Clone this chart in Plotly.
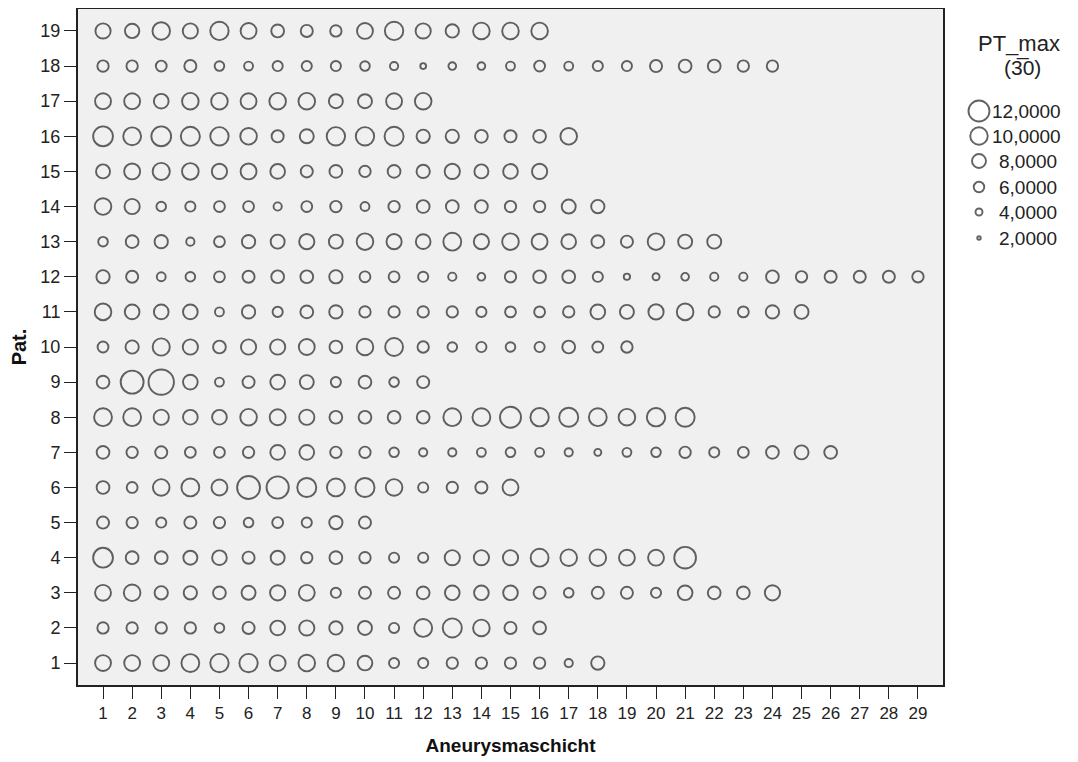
import plotly.graph_objects as go

# ---------------- data ----------------
patients = list(range(1, 20))           # Pat. 1..19
layers = list(range(1, 30))             # Aneurysmaschicht 1..29

# PT_max per patient, one value per layer (layer 1, 2, ...)
pt_max_p01 = [9.1, 9.1, 9.1, 10.2, 10.5, 10.5, 9.1, 9.5, 9.5, 8.4, 5.8, 5.8, 6.5, 6.5, 6.5, 6.5, 4.7, 7.6]
pt_max_p02 = [6.5, 6.5, 6.5, 6.5, 5.5, 6.9, 8.4, 8.7, 7.6, 8.0, 5.8, 10.2, 10.9, 9.5, 6.9, 7.3]
pt_max_p03 = [9.1, 9.5, 7.6, 7.6, 7.3, 8.0, 8.7, 9.1, 5.8, 6.9, 6.9, 7.3, 8.4, 8.4, 8.4, 6.9, 5.5, 6.9, 6.9, 5.8, 8.4, 7.3, 7.3, 8.7]
pt_max_p04 = [11.3, 7.3, 7.3, 8.0, 8.4, 6.9, 8.0, 6.5, 7.3, 6.5, 5.8, 5.8, 8.7, 8.7, 8.7, 10.2, 9.5, 9.5, 9.1, 9.1, 12.4]
pt_max_p05 = [6.9, 6.5, 5.8, 6.9, 6.5, 5.5, 6.2, 5.8, 7.6, 6.9]
pt_max_p06 = [7.3, 6.2, 9.5, 10.2, 9.1, 13.1, 12.7, 10.9, 10.2, 10.9, 9.5, 5.8, 6.5, 6.9, 9.1]
pt_max_p07 = [7.3, 6.5, 6.9, 6.2, 6.2, 6.5, 8.4, 8.4, 6.5, 6.5, 5.5, 4.7, 4.7, 5.1, 5.5, 5.1, 4.7, 4.0, 5.1, 5.5, 6.5, 5.8, 6.2, 7.3, 8.0, 7.3]
pt_max_p08 = [10.2, 10.2, 8.7, 8.4, 8.4, 9.5, 9.1, 8.7, 7.3, 7.3, 7.3, 7.3, 10.2, 10.2, 12.0, 10.5, 10.9, 10.2, 9.5, 10.5, 10.9]
pt_max_p09 = [7.3, 13.1, 14.5, 8.4, 5.1, 6.9, 8.4, 8.0, 5.8, 7.3, 5.5, 6.9]
pt_max_p10 = [6.2, 7.6, 9.8, 8.7, 7.3, 8.7, 8.7, 9.1, 7.3, 9.5, 10.2, 6.5, 5.5, 5.8, 5.5, 5.8, 7.3, 6.2, 6.5]
pt_max_p11 = [9.5, 8.4, 8.4, 8.4, 5.1, 7.6, 5.8, 7.3, 7.6, 6.5, 6.5, 6.5, 6.5, 5.8, 6.2, 6.2, 6.5, 8.4, 8.0, 8.7, 9.5, 6.5, 6.2, 7.6, 8.0]
pt_max_p12 = [7.6, 6.9, 5.1, 5.5, 6.2, 6.9, 7.3, 7.3, 7.6, 6.2, 6.2, 5.8, 4.7, 4.4, 6.5, 7.3, 7.3, 5.8, 3.6, 4.0, 4.4, 4.7, 4.7, 7.3, 6.5, 6.9, 6.9, 6.9, 6.5]
pt_max_p13 = [5.5, 7.3, 7.6, 4.7, 6.2, 7.6, 8.0, 8.7, 8.0, 9.5, 8.7, 8.4, 10.2, 8.7, 9.5, 9.1, 8.4, 7.3, 6.9, 9.5, 8.0, 8.0]
pt_max_p14 = [9.5, 8.7, 5.5, 5.8, 6.2, 6.2, 4.7, 6.2, 6.5, 5.1, 6.5, 7.3, 7.3, 7.3, 6.5, 6.5, 8.0, 7.6]
pt_max_p15 = [8.0, 9.1, 9.8, 9.5, 8.7, 9.1, 8.4, 6.9, 7.3, 6.5, 7.3, 7.6, 8.7, 8.0, 8.4, 8.7]
pt_max_p16 = [11.3, 10.2, 11.3, 10.9, 10.5, 9.5, 6.9, 8.0, 10.5, 10.5, 10.9, 7.6, 7.6, 7.3, 6.9, 7.3, 9.5]
pt_max_p17 = [9.1, 9.1, 8.4, 9.5, 9.5, 9.1, 9.5, 9.5, 8.0, 8.0, 9.1, 9.5]
pt_max_p18 = [6.5, 6.5, 6.2, 6.9, 5.5, 5.1, 5.8, 5.8, 5.8, 5.5, 4.7, 3.3, 4.4, 4.4, 5.1, 6.2, 5.1, 5.8, 5.8, 6.9, 7.3, 7.3, 6.5, 6.5]
pt_max_p19 = [8.7, 8.2, 10.0, 8.7, 10.5, 9.1, 7.3, 6.9, 6.5, 9.1, 10.5, 8.7, 7.6, 9.5, 9.5, 9.5]

pt_max_rows = [pt_max_p01, pt_max_p02, pt_max_p03, pt_max_p04, pt_max_p05, pt_max_p06,
               pt_max_p07, pt_max_p08, pt_max_p09, pt_max_p10, pt_max_p11, pt_max_p12,
               pt_max_p13, pt_max_p14, pt_max_p15, pt_max_p16, pt_max_p17, pt_max_p18,
               pt_max_p19]

legend_values = [12, 10, 8, 6, 4, 2]
legend_labels = ["12,0000", "10,0000", "8,0000", "6,0000", "4,0000", "2,0000"]

x_title = "Aneurysmaschicht"
y_title = "Pat."
legend_title = "PT_max"
legend_subtitle = "(3\u03050)"

# ---------------- build ----------------
xs, ys, vs = [], [], []
for pat, row in zip(patients, pt_max_rows):
    for layer, v in zip(layers, row):
        xs.append(layer)
        ys.append(pat)
        vs.append(v)

PAGE_W, PAGE_H = 1078, 762
OFF = 8                                    # default body margin of the html page
W, H = PAGE_W - OFF, PAGE_H - OFF          # figure size
PL, PR, PT, PB = 78, 943, 9, 685           # plot frame in page pixels


def fx(px):
    return (px - OFF) / W


def fy(py):
    return 1 - (py - OFF) / H


SCALE = 1.75                               # px of diameter per PT_max unit
LINE_COL = "#222222"
FONT = "Liberation Sans, Arial, sans-serif"

fig = go.Figure()
fig.add_trace(go.Scatter(
    x=xs, y=ys, mode="markers",
    marker=dict(size=vs, sizemode="diameter", sizeref=1 / SCALE,
                color="rgba(0,0,0,0)",
                line=dict(color=LINE_COL, width=1.9)),
    showlegend=False, hoverinfo="x+y+text", text=[f"{v:.4f}" for v in vs],
))

# legend drawn on an auxiliary axis pair whose units are page pixels
LEG_X0 = 946
leg_x = 979
leg_y = [111, 136, 161, 187, 212, 238]
fig.add_trace(go.Scatter(
    x=[leg_x] * len(legend_values), y=leg_y, mode="markers",
    marker=dict(size=legend_values, sizemode="diameter", sizeref=1 / SCALE,
                color="rgba(0,0,0,0)", line=dict(color=LINE_COL, width=1.9)),
    xaxis="x2", yaxis="y2", showlegend=False, hoverinfo="skip",
))

annotations = []
for lab, yy in zip(legend_labels, leg_y):
    annotations.append(dict(x=990 if len(lab) > 6 else 997, y=yy, xref="x2", yref="y2",
                            text=lab, showarrow=False, xanchor="left", yanchor="middle",
                            font=dict(family=FONT, size=19, color="#222")))
annotations.append(dict(x=1019, y=43, xref="x2", yref="y2", text=legend_title,
                        showarrow=False, xanchor="center", yanchor="middle",
                        font=dict(family=FONT, size=22, color="#222")))
annotations.append(dict(x=1022, y=67, xref="x2", yref="y2", text=legend_subtitle,
                        showarrow=False, xanchor="center", yanchor="middle",
                        font=dict(family=FONT, size=21, color="#222")))

fig.update_layout(
    width=W, height=H,
    margin=dict(l=0, r=0, t=0, b=0, pad=0),
    paper_bgcolor="white",
    plot_bgcolor="white",
    annotations=annotations,
    shapes=[dict(type="rect", xref="x domain", yref="y domain", x0=0, x1=1, y0=0, y1=1,
                 fillcolor="#f0f0f0", line=dict(width=0), layer="below")],
    xaxis=dict(
        domain=[fx(PL), fx(PR)],
        range=[0.14, 29.86], tickmode="array", tickvals=layers,
        ticktext=[str(v) for v in layers],
        showgrid=False, zeroline=False,
        showline=True, mirror=True, linecolor=LINE_COL, linewidth=2,
        ticks="outside", ticklen=12, tickwidth=1, tickcolor=LINE_COL,
        tickfont=dict(family=FONT, size=17, color="#222"),
        title=dict(text=f"<b>{x_title}</b>", standoff=16,
                   font=dict(family=FONT, size=19, color="#111")),
    ),
    yaxis=dict(
        domain=[fy(PB), fy(PT)],
        range=[0.375, 19.625], tickmode="array", tickvals=patients,
        ticktext=[str(v) for v in patients],
        showgrid=False, zeroline=False,
        showline=True, mirror=True, linecolor=LINE_COL, linewidth=2,
        ticks="outside", ticklen=12, tickwidth=1, tickcolor=LINE_COL,
        tickfont=dict(family=FONT, size=18, color="#222"),
        title=dict(text=f"<b>{y_title}</b>", standoff=10,
                   font=dict(family=FONT, size=20, color="#111")),
    ),
    xaxis2=dict(domain=[fx(LEG_X0), 1.0], range=[LEG_X0, OFF + W], visible=False,
                fixedrange=True, anchor="y2"),
    yaxis2=dict(domain=[0, 1], range=[OFF + H, OFF], visible=False, fixedrange=True,
                anchor="x2"),
)

fig.write_html("out.html")
